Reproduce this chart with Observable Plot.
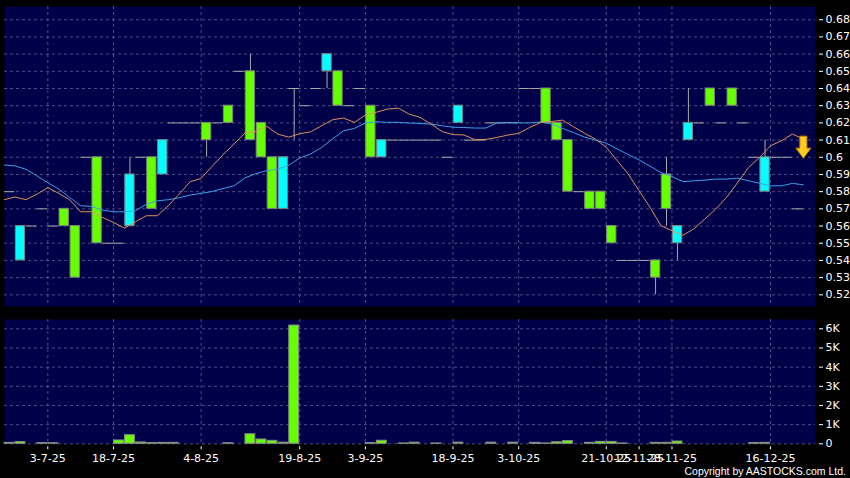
<!DOCTYPE html>
<html><head><meta charset="utf-8">
<script src="https://cdn.jsdelivr.net/npm/d3@7"></script>
<script src="https://cdn.jsdelivr.net/npm/@observablehq/plot@0.6"></script>
<style>
html,body{margin:0;padding:0;background:#000;}
#wrap{position:relative;width:850px;height:478px;background:#000;overflow:hidden;font-family:"DejaVu Sans",sans-serif;}
#price{position:absolute;left:0;top:0;}
#vol{position:absolute;left:0;top:310px;}
#copy{position:absolute;right:4px;top:465px;color:#fff;font:10.5px "Liberation Sans",sans-serif;line-height:13px;white-space:nowrap;}
</style></head><body>
<div id="wrap"><div id="price"></div><div id="vol"></div><div id="copy">Copyright by AASTOCKS.com Ltd.</div></div>
<script>
// ---- data (one entry per traded day, left to right) ----
const openP  = [0.58,0.54,0.56,0.57,0.56,0.57,0.56,0.60,0.60,0.55,0.55,0.56,0.60,0.60,0.59,0.62,0.62,0.62,0.62,0.62,0.63,0.65,0.65,0.62,0.60,0.57,0.64,0.63,0.64,0.65,0.65,0.63,0.64,0.63,0.60,0.61,0.61,0.61,0.61,0.61,0.60,0.62,0.61,0.61,0.62,0.62,0.62,0.64,0.64,0.64,0.62,0.61,0.58,0.58,0.58,0.56,0.54,0.54,0.54,0.54,0.59,0.55,0.61,0.62,0.64,0.62,0.64,0.62,0.60,0.58,0.60,0.60,0.57];
const closeP = [0.58,0.56,0.56,0.57,0.56,0.56,0.53,0.60,0.55,0.55,0.55,0.59,0.60,0.57,0.61,0.62,0.62,0.62,0.61,0.62,0.62,0.65,0.61,0.60,0.57,0.60,0.64,0.63,0.64,0.66,0.63,0.63,0.64,0.60,0.61,0.61,0.61,0.61,0.61,0.61,0.60,0.63,0.61,0.61,0.62,0.62,0.62,0.64,0.64,0.62,0.61,0.58,0.58,0.57,0.57,0.55,0.54,0.54,0.54,0.53,0.57,0.56,0.62,0.62,0.63,0.62,0.63,0.62,0.60,0.60,0.60,0.60,0.57];
const highP  = [0.58,0.56,0.56,0.57,0.56,0.57,0.56,0.60,0.60,0.55,0.55,0.60,0.60,0.60,0.61,0.62,0.62,0.62,0.62,0.62,0.63,0.65,0.66,0.62,0.60,0.60,0.64,0.63,0.64,0.66,0.65,0.63,0.64,0.63,0.61,0.61,0.61,0.61,0.61,0.61,0.60,0.63,0.61,0.61,0.62,0.62,0.62,0.64,0.64,0.64,0.62,0.61,0.58,0.58,0.58,0.56,0.54,0.54,0.54,0.54,0.60,0.56,0.64,0.62,0.64,0.62,0.64,0.62,0.60,0.61,0.60,0.60,0.57];
const lowP   = [0.58,0.54,0.56,0.57,0.56,0.56,0.53,0.60,0.55,0.55,0.55,0.56,0.60,0.57,0.59,0.62,0.62,0.62,0.60,0.62,0.62,0.65,0.61,0.60,0.57,0.57,0.61,0.63,0.64,0.64,0.63,0.63,0.64,0.60,0.60,0.61,0.61,0.61,0.61,0.61,0.60,0.62,0.61,0.61,0.62,0.62,0.62,0.64,0.64,0.62,0.61,0.58,0.58,0.57,0.57,0.55,0.54,0.54,0.54,0.52,0.56,0.54,0.61,0.62,0.63,0.62,0.63,0.62,0.60,0.58,0.60,0.60,0.57];
const volume = [50,90,0,40,30,0,0,0,0,0,175,450,70,40,50,50,0,0,0,0,30,0,500,225,155,60,6170,0,0,0,0,0,0,40,160,0,20,60,0,20,0,60,0,0,60,0,60,0,50,20,80,140,0,50,100,100,20,0,0,50,50,120,0,0,0,0,0,0,40,50,0,0,0];
// moving averages, one value per day boundary (74 values)
const maShort = [0.5753,0.5769,0.5753,0.5785,0.5824,0.5790,0.5753,0.5683,0.5683,0.5650,0.5621,0.5588,0.5625,0.5660,0.5660,0.5718,0.5786,0.5858,0.5877,0.5947,0.6015,0.6077,0.6141,0.6150,0.6180,0.6135,0.6117,0.6137,0.6148,0.6183,0.6218,0.6228,0.6203,0.6245,0.6262,0.6280,0.6286,0.6251,0.6232,0.6193,0.6150,0.6132,0.6130,0.6102,0.6104,0.6115,0.6129,0.6139,0.6173,0.6203,0.6208,0.6216,0.6178,0.6140,0.6106,0.6058,0.5980,0.5903,0.5805,0.5709,0.5602,0.5573,0.5546,0.5584,0.5641,0.5699,0.5768,0.5853,0.5941,0.5999,0.6067,0.6096,0.6135,0.6106];
const maLong  = [0.5955,0.5950,0.5930,0.5892,0.5852,0.5815,0.5766,0.5718,0.5714,0.5693,0.5683,0.5683,0.5689,0.5727,0.5747,0.5753,0.5765,0.5780,0.5790,0.5801,0.5818,0.5834,0.5880,0.5905,0.5922,0.5931,0.5953,0.5996,0.6019,0.6057,0.6106,0.6154,0.6168,0.6199,0.6207,0.6203,0.6203,0.6199,0.6197,0.6193,0.6183,0.6175,0.6173,0.6170,0.6170,0.6199,0.6203,0.6200,0.6200,0.6205,0.6193,0.6168,0.6144,0.6118,0.6100,0.6082,0.6048,0.6016,0.5984,0.5948,0.5911,0.5888,0.5858,0.5863,0.5867,0.5873,0.5873,0.5879,0.5863,0.5849,0.5834,0.5834,0.5848,0.5840];
// date labels and the day they sit after
const xTickIdx    = [3,9,17,26,32,40,46,54,57,60,69];
const xTickLabels = ["3-7-25","18-7-25","4-8-25","19-8-25","3-9-25","18-9-25","3-10-25","21-10-25","12-11-25","28-11-25","16-12-25"];
const priceTicks = [0.52,0.53,0.54,0.55,0.56,0.57,0.58,0.59,0.60,0.61,0.62,0.63,0.64,0.65,0.66,0.67,0.68];
const volTicks = [0,1000,2000,3000,4000,5000,6000];
const volTickLabels = ["0","1K","2K","3K","4K","5K","6K"];
const signal = [{day: 72.5, price: 0.6059, dir: "down"}];

// ---- derived tables ----
const candles = openP.map((o,i)=>({i, open:o, close:closeP[i], high:highP[i], low:lowP[i], volume:volume[i]}));
const maPts = maShort.map((v,k)=>({x:k-0.5, short:v, long:maLong[k]}));
const xTickPos = xTickIdx.map(d=>d+0.5);
const xLabelOf = new Map(xTickPos.map((p,i)=>[p, xTickLabels[i]]));
const volLabelOf = new Map(volTicks.map((v,i)=>[v, volTickLabels[i]]));

const X_DOMAIN = [-0.4566, 73.607];
const BG = "#000048";
const GRID = "#8080b0";
const UP = "#00ffff", DOWN = "#66ff00";
const fontStyle = {background:"transparent", color:"#fff", fontFamily:"'DejaVu Sans', sans-serif", fontSize:"11px"};

const arrowSymbol = { draw(ctx){ ctx.moveTo(-3.5,-11); ctx.lineTo(3.5,-11); ctx.lineTo(3.5,1); ctx.lineTo(7.5,1); ctx.lineTo(0,11); ctx.lineTo(-7.5,1); ctx.lineTo(-3.5,1); ctx.closePath(); } };

const pricePlot = Plot.plot({
  width:850, height:310, marginLeft:4, marginRight:35, marginTop:6, marginBottom:4,
  style: fontStyle,
  x:{type:"linear", domain:X_DOMAIN, axis:null},
  y:{type:"linear", domain:[0.5132,0.6877], axis:null},
  marks:[
    Plot.frame({fill:BG, stroke:null}),
    Plot.gridY(priceTicks, {stroke:GRID, strokeOpacity:0.6, strokeDasharray:"3,3"}),
    Plot.gridX(xTickPos, {stroke:GRID, strokeOpacity:0.6, strokeDasharray:"3,3"}),
    Plot.axisY(priceTicks, {anchor:"right", label:null, tickSize:4, tickPadding:3, dx:3, tickFormat:d=>String(+d.toFixed(2))}),
    Plot.ruleX(candles.filter(d=>d.high>d.low), {x:"i", y1:"low", y2:"high", stroke:"#a8a8a8", clip:true}),
    Plot.ruleY(candles.filter(d=>d.open===d.close), {y:"close", x1:d=>d.i-0.48, x2:d=>d.i+0.48, stroke:"#a8a8a8", clip:true}),
    Plot.rect(candles.filter(d=>d.open!==d.close), {x1:d=>d.i-0.425, x2:d=>d.i+0.425, y1:"open", y2:"close", fill:d=>d.close>d.open?UP:DOWN, stroke:"#808080", strokeWidth:1}),
    Plot.line(maPts, {x:"x", y:"long", stroke:"#3aa0e8", strokeWidth:1, clip:true}),
    Plot.line(maPts, {x:"x", y:"short", stroke:"#e0905a", strokeWidth:1, clip:true}),
    Plot.dot(signal, {x:"day", y:"price", symbol:arrowSymbol, fill:"#ffcc22", stroke:"#c88400", strokeWidth:1})
  ]
});
document.getElementById("price").appendChild(pricePlot);

const volPlot = Plot.plot({
  width:850, height:168, marginLeft:4, marginRight:35, marginTop:9, marginBottom:34.7,
  style: fontStyle,
  x:{type:"linear", domain:X_DOMAIN, axis:null},
  y:{type:"linear", domain:[0,6485], axis:null},
  marks:[
    Plot.frame({fill:BG, stroke:null}),
    Plot.gridY(volTicks, {stroke:GRID, strokeOpacity:0.6, strokeDasharray:"3,3"}),
    Plot.gridX(xTickPos, {stroke:GRID, strokeOpacity:0.6, strokeDasharray:"3,3"}),
    Plot.axisY(volTicks, {anchor:"right", label:null, tickSize:4, tickPadding:3, dx:3, tickFormat:d=>volLabelOf.get(d)}),
    Plot.axisX(xTickPos, {anchor:"bottom", label:null, tickSize:3, tickPadding:4, dy:3, tickFormat:d=>xLabelOf.get(d)}),
    Plot.rect(candles.filter(d=>d.volume>0), {x1:d=>d.i-0.45, x2:d=>d.i+0.45, y1:0, y2:"volume", fill:DOWN, stroke:"#8a8a8a", strokeWidth:1})
  ]
});
document.getElementById("vol").appendChild(volPlot);
</script>
</body></html>
